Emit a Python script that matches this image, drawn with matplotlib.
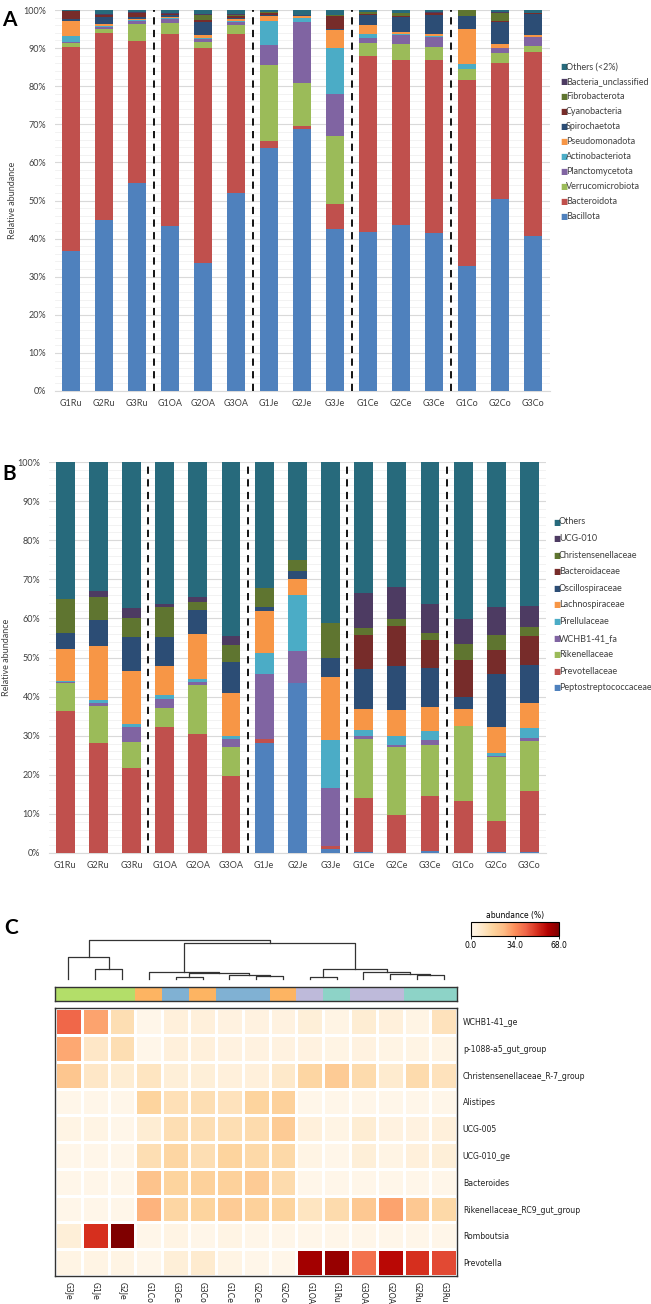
import matplotlib
matplotlib.use("Agg")
import matplotlib.pyplot as plt
import numpy as np

W, H = 651, 1304

samples = ['G1Ru', 'G2Ru', 'G3Ru', 'G1OA', 'G2OA', 'G3OA', 'G1Je', 'G2Je', 'G3Je',
           'G1Ce', 'G2Ce', 'G3Ce', 'G1Co', 'G2Co', 'G3Co']

# Panel A - phylum level (bottom to top)
phyla = ['Bacillota', 'Bacteroidota', 'Verrucomicrobiota', 'Planctomycetota',
         'Actinobacteriota', 'Pseudomonadota', 'Spirochaetota', 'Cyanobacteria',
         'Fibrobacterota', 'Bacteria_unclassified', 'Others (<2%)']
bacillota = [36.7, 45.0, 54.5, 43.3, 33.7, 52.0, 63.9, 68.8, 42.4, 41.8, 43.6, 41.5, 32.8, 50.3, 40.7]
bacteroidota = [53.5, 48.9, 37.3, 50.3, 56.4, 41.6, 1.7, 0.8, 6.8, 46.0, 43.3, 45.5, 48.7, 35.9, 48.3]
verrucomicrobiota = [1.1, 1.0, 4.5, 3.0, 1.5, 2.4, 20.0, 11.2, 17.6, 3.6, 4.3, 3.3, 3.0, 2.5, 1.5]
planctomycetota = [0.2, 0.6, 0.7, 1.0, 0.8, 0.9, 5.3, 16.0, 11.2, 1.3, 2.3, 2.7, 0.0, 1.2, 2.3]
actinobacteriota = [1.6, 0.2, 0.3, 0.4, 0.3, 0.2, 6.2, 1.2, 12.1, 1.1, 0.2, 0.2, 1.4, 0.2, 0.2]
pseudomonadota = [4.1, 0.6, 0.4, 0.2, 0.7, 0.5, 1.4, 0.5, 4.6, 2.2, 0.4, 0.6, 9.1, 1.1, 0.5]
spirochaetota = [0.5, 1.8, 0.5, 0.6, 3.4, 0.4, 0.2, 0.1, 0.2, 2.7, 4.0, 4.9, 3.4, 5.7, 5.5]
cyanobacteria = [2.0, 0.6, 0.9, 0.1, 0.5, 0.3, 0.6, 0.0, 3.6, 0.2, 0.3, 0.4, 0.0, 0.3, 0.1]
fibrobacterota = [0.0, 0.1, 0.1, 0.1, 1.4, 0.5, 0.1, 0.1, 0.1, 0.5, 0.8, 0.2, 1.6, 2.1, 0.1]
bact_unclassified = [0.1, 0.2, 0.2, 0.1, 0.2, 0.2, 0.1, 0.1, 0.1, 0.1, 0.1, 0.1, 0.0, 0.1, 0.1]
others_a = [0.2, 1.0, 0.6, 0.9, 1.1, 1.0, 0.5, 1.2, 1.3, 0.5, 0.7, 0.6, 0.0, 0.6, 0.7]

# Panel B - family level (bottom to top)
families = ['Peptostreptococcaceae', 'Prevotellaceae', 'Rikenellaceae', 'WCHB1-41_fa',
            'Pirellulaceae', 'Lachnospiraceae', 'Oscillospiraceae', 'Bacteroidaceae',
            'Christensenellaceae', 'UCG-010', 'Others']
peptostrep = [0.1, 0.1, 0.1, 0.1, 0.1, 0.1, 28.1, 43.4, 1.0, 0.3, 0.1, 0.5, 0.1, 0.2, 0.2]
prevotellaceae = [36.2, 28.1, 21.6, 32.2, 30.4, 19.5, 1.0, 0.2, 0.9, 13.7, 9.7, 14.2, 13.1, 8.1, 15.6]
rikenellaceae = [7.3, 9.5, 6.6, 4.9, 12.5, 7.4, 0.0, 0.0, 0.0, 15.2, 17.4, 12.8, 19.3, 16.2, 12.9]
wchb1_fa = [0.2, 0.7, 4.0, 2.1, 0.7, 2.1, 16.6, 8.1, 14.7, 0.6, 0.5, 1.3, 0.0, 0.3, 0.8]
pirellulaceae = [0.2, 0.7, 0.7, 1.1, 0.9, 0.9, 5.4, 14.3, 12.2, 1.7, 2.3, 2.4, 0.0, 0.7, 2.4]
lachnospiraceae = [8.1, 13.9, 13.6, 7.4, 11.4, 11.0, 10.9, 4.1, 16.1, 5.3, 6.6, 6.2, 4.3, 6.6, 6.4]
oscillospiraceae = [4.2, 6.7, 8.6, 7.5, 6.1, 7.8, 1.0, 2.1, 5.1, 10.2, 11.3, 9.8, 3.0, 13.7, 9.8]
bacteroidaceae = [0, 0, 0, 0, 0, 0, 0, 0, 0, 8.8, 10.1, 7.3, 9.6, 6.1, 7.4]
christensenellaceae = [8.6, 5.8, 4.9, 7.7, 2.2, 4.5, 4.9, 2.7, 8.7, 1.8, 1.8, 1.7, 4.0, 3.8, 2.2]
ucg010 = [0.1, 1.6, 2.6, 0.8, 1.2, 2.2, 0.0, 0.0, 0.0, 8.9, 8.3, 7.6, 6.4, 7.3, 5.5]
others_b = [35.0, 32.9, 37.3, 36.2, 34.5, 44.5, 32.1, 25.1, 41.3, 33.5, 31.9, 36.2, 40.2, 37.0, 36.8]

# Panel C - heatmap (genus level, %)
hm_cols = ['G3Je', 'G1Je', 'G2Je', 'G1Co', 'G3Ce', 'G3Co', 'G1Ce', 'G2Ce', 'G2Co',
           'G1OA', 'G1Ru', 'G3OA', 'G2OA', 'G2Ru', 'G3Ru']
hm_rows = ['WCHB1-41_ge', 'p-1088-a5_gut_group', 'Christensenellaceae_R-7_group',
           'Alistipes', 'UCG-005', 'UCG-010_ge', 'Bacteroides',
           'Rikenellaceae_RC9_gut_group', 'Romboutsia', 'Prevotella']
hm_values = [
    [42, 30, 13, 1, 4, 4, 3, 3, 3, 5, 2, 6, 4, 2, 11],
    [29, 9, 13, 1, 4, 4, 3, 3, 3, 3, 2, 3, 2, 2, 2],
    [22, 9, 6, 10, 5, 5, 4, 4, 8, 16, 20, 14, 7, 14, 11],
    [1, 1, 1, 17, 12, 13, 11, 17, 18, 1, 1, 1, 1, 1, 1],
    [2, 2, 1, 6, 13, 13, 13, 14, 20, 4, 2, 6, 3, 3, 4],
    [1, 1, 1, 13, 16, 13, 17, 15, 15, 2, 1, 5, 2, 4, 5],
    [1, 1, 1, 23, 17, 18, 18, 20, 14, 1, 1, 1, 1, 1, 1],
    [1, 1, 1, 27, 16, 17, 20, 18, 17, 10, 14, 21, 30, 21, 15],
    [5, 51, 68, 1, 2, 1, 2, 1, 1, 1, 1, 1, 1, 1, 1],
    [2, 2, 2, 1, 5, 7, 2, 1, 1, 62, 64, 40, 58, 51, 47],
]
# column dendrogram: (child a, child b, height); leaves 0-14, merged clusters 15+
linkage = [(1, 2, 0.27), (0, 15, 0.56), (4, 5, 0.05), (7, 8, 0.085), (6, 18, 0.12),
           (17, 19, 0.15), (3, 20, 0.18), (9, 10, 0.05), (13, 14, 0.11), (12, 23, 0.145),
           (11, 24, 0.18), (22, 25, 0.255), (21, 26, 0.92), (16, 27, 1.0)]
group_colors = {'Je': '#B3DE69', 'Co': '#FDB462', 'Ce': '#80B1D3', 'OA': '#BEBADA', 'Ru': '#8DD3C7'}

colors_a = ['#4F81BD', '#C0504D', '#9BBB59', '#8064A2', '#4BACC6', '#F79646',
            '#2C4D75', '#772C2A', '#5F7530', '#4D3B62', '#276A7C']
colors_b = ['#4F81BD', '#C0504D', '#9BBB59', '#8064A2', '#4BACC6', '#F79646',
            '#2C4D75', '#772C2A', '#5F7530', '#4D3B62', '#276A7C']

plt.rcParams['font.family'] = ['Lato', 'DejaVu Sans']
fig = plt.figure(figsize=(W / 100, H / 100), dpi=100)


def px_axes(left, top, right, bottom):
    return fig.add_axes([left / W, 1 - bottom / H, (right - left) / W, (bottom - top) / H])


def stacked_panel(ax, series, names, colors, width, leg_x, leg_y0, leg_dy, lab_x):
    x = np.arange(len(samples))
    bottom = np.zeros(len(samples))
    for vals, c in zip(series, colors):
        ax.bar(x, vals, width, bottom=bottom, color=c, zorder=3)
        bottom += np.array(vals)
    ax.set_xlim(-0.5, len(samples) - 0.5)
    ax.set_ylim(0, 100)
    ax.set_yticks(np.arange(0, 101, 10))
    ax.set_yticklabels([f'{v}%' for v in range(0, 101, 10)])
    ax.set_yticks(np.arange(0, 101, 2), minor=True)
    ax.grid(axis='y', which='major', color='#D9D9D9', lw=0.8, zorder=0)
    ax.grid(axis='y', which='minor', color='#F0F0F0', lw=0.6, zorder=0)
    ax.set_xticks(x)
    ax.set_xticklabels(samples)
    ax.tick_params(which='both', length=0, labelsize=6.5, labelcolor='#404040', pad=6)
    for s in ['top', 'right', 'left']:
        ax.spines[s].set_visible(False)
    ax.spines['bottom'].set_color('#D9D9D9')
    for b in [2.5, 5.5, 8.5, 11.5]:
        ax.axvline(b, color='black', ls=(0, (4, 3)), lw=1.3, zorder=4)
    ax.set_ylabel('Relative abundance', fontsize=6.5, color='#404040', labelpad=4)
    ax.yaxis.set_label_coords(lab_x, 0.5)
    # legend drawn top to bottom in reverse stacking order
    for i, (nm, c) in enumerate(zip(names[::-1], colors[::-1])):
        y = leg_y0 + i * leg_dy
        fig.text(leg_x / W, 1 - y / H, '\u25A0', color=c, fontsize=5.5, va='center', ha='left',
                 family='DejaVu Sans')
        fig.text((leg_x + 6) / W, 1 - y / H, nm, color='#404040', fontsize=6.5, va='center', ha='left')


axA = px_axes(54.5, 10, 549.5, 391)
stacked_panel(axA, [bacillota, bacteroidota, verrucomicrobiota, planctomycetota,
                    actinobacteriota, pseudomonadota, spirochaetota, cyanobacteria,
                    fibrobacterota, bact_unclassified, others_a],
              phyla, colors_a, 0.55, 560, 66.7, 15, -0.075)
fig.text(2 / W, 1 - 20 / H, 'A', fontsize=15, fontweight='bold', va='center')

axB = px_axes(48.7, 462, 546, 853)
stacked_panel(axB, [peptostrep, prevotellaceae, rikenellaceae, wchb1_fa, pirellulaceae,
                    lachnospiraceae, oscillospiraceae, bacteroidaceae, christensenellaceae,
                    ucg010, others_b],
              families, colors_b, 0.57, 553, 522, 16.6, -0.075)
fig.text(2 / W, 1 - 474 / H, 'B', fontsize=15, fontweight='bold', va='center')

# Panel C
fig.text(4 / W, 1 - 928 / H, 'C', fontsize=15, fontweight='bold', va='center')
hx0, hx1, hy0, hy1 = 55, 457.3, 1008.3, 1276
axH = px_axes(hx0, hy0, hx1, hy1)
data = np.array(hm_values, dtype=float)
mesh = axH.pcolormesh(np.arange(len(hm_cols) + 1) - 0.5, np.arange(len(hm_rows) + 1) - 0.5, data,
                      cmap='OrRd', vmin=0, vmax=68, edgecolors='white', linewidth=1.0)
axH.set_xlim(-0.5, len(hm_cols) - 0.5)
axH.set_ylim(len(hm_rows) - 0.5, -0.5)
axH.set_xticks(np.arange(len(hm_cols)))
axH.set_xticklabels(hm_cols, rotation=270, fontsize=5.6, family='DejaVu Sans', color='#222222')
axH.yaxis.tick_right()
axH.set_yticks(np.arange(len(hm_rows)))
axH.set_yticklabels(hm_rows, fontsize=5.6, family='DejaVu Sans', color='#222222')
axH.tick_params(length=0, pad=4)
for s in axH.spines.values():
    s.set_color('#333333')
    s.set_linewidth(1.0)

# group colour strip
axS = px_axes(hx0, 987, hx1, 1000.7)
for i, nm in enumerate(hm_cols):
    axS.bar(i, 1, 1.0, color=group_colors[nm[-2:]], edgecolor='none')
axS.set_xlim(-0.5, len(hm_cols) - 0.5)
axS.set_ylim(0, 1)
axS.set_xticks([])
axS.set_yticks([])
for s in axS.spines.values():
    s.set_color('#333333')
    s.set_linewidth(1.0)

# dendrogram
axD = px_axes(hx0, 940, hx1, 979.3)
pos = {i: float(i) for i in range(len(hm_cols))}
hgt = {i: 0.0 for i in range(len(hm_cols))}
for k, (a, b, h) in enumerate(linkage):
    nid = len(hm_cols) + k
    axD.plot([pos[a], pos[a], pos[b], pos[b]], [hgt[a], h, h, hgt[b]],
             color='#333333', lw=0.9, clip_on=False)
    pos[nid] = (pos[a] + pos[b]) / 2
    hgt[nid] = h
axD.set_xlim(-0.5, len(hm_cols) - 0.5)
axD.set_ylim(0, 1.0)
axD.axis('off')

# colorbar
cax = px_axes(471, 922.3, 559, 936)
cb = fig.colorbar(mesh, cax=cax, orientation='horizontal', ticks=[0, 34, 68])
cb.ax.set_xticklabels(['0.0', '34.0', '68.0'], fontsize=5.5, family='DejaVu Sans')
cb.ax.tick_params(length=2, width=0.6, pad=1.5)
cb.outline.set_linewidth(0.8)
cb.ax.set_title('abundance (%)', fontsize=5.5, family='DejaVu Sans', pad=3)

fig.savefig('out.png', dpi=100)
